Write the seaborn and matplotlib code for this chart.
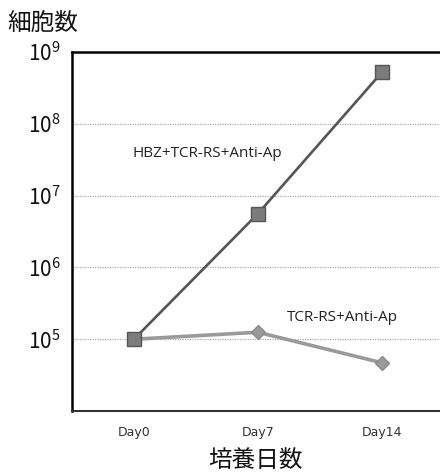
import matplotlib
matplotlib.use("Agg")
import matplotlib.pyplot as plt
import matplotlib.ticker as mticker
import seaborn as sns
import pandas as pd

# Culture days and cell counts per condition
days = ["Day0", "Day7", "Day14"]
hbz_counts = [1.0e5, 5.6e6, 5.2e8]
tcr_counts = [1.0e5, 1.25e5, 4.7e4]
series_names = ["HBZ+TCR-RS+Anti-Ap", "TCR-RS+Anti-Ap"]
y_ticks = [1e5, 1e6, 1e7, 1e8, 1e9]

sns.set_theme(style="white")
plt.rcParams["font.family"] = ["Noto Sans CJK JP", "DejaVu Sans"]

df = pd.DataFrame({
    "pos": list(range(len(days))) * 2,
    "count": hbz_counts + tcr_counts,
    "series": [series_names[0]] * len(days) + [series_names[1]] * len(days),
})

fig = plt.figure(figsize=(4.4, 4.75), dpi=100)
ax = fig.add_axes([0.1636, 0.1347, 0.845, 0.7558])

# lighter series first so the squares sit on top at Day0
sns.lineplot(data=df[df.series == series_names[1]], x="pos", y="count",
             ax=ax, color="#9a9a9a", linewidth=2.6, marker="D",
             markersize=7, markerfacecolor="#9a9a9a",
             markeredgecolor="#8a8a8a", markeredgewidth=1.0)
sns.lineplot(data=df[df.series == series_names[0]], x="pos", y="count",
             ax=ax, color="#555555", linewidth=1.9, marker="s",
             markersize=10, markerfacecolor="#7c7c7c",
             markeredgecolor="#555555", markeredgewidth=1.0)

ax.set_yscale("log")
ax.set_ylim(1e4, 1e9)
ax.set_xlim(-0.5, 2.5)
ax.set_yticks(y_ticks)
ax.yaxis.set_major_formatter(mticker.LogFormatterMathtext())
ax.yaxis.set_minor_locator(mticker.NullLocator())
ax.set_xticks(range(len(days)))
ax.set_xticklabels(days, fontsize=9, color="#333333", family="DejaVu Sans")
for lab in ax.get_yticklabels():
    lab.set_fontsize(15)
    lab.set_color("#111111")
ax.tick_params(axis="both", length=0)
ax.tick_params(axis="x", pad=11)
ax.tick_params(axis="y", pad=8)

ax.yaxis.grid(True, color="#aaaaaa", linestyle=(0, (1, 1)), linewidth=0.9)
ax.set_axisbelow(True)

for side in ["left", "top"]:
    ax.spines[side].set_color("#000000")
    ax.spines[side].set_linewidth(1.8)
ax.spines["bottom"].set_color("#333333")
ax.spines["bottom"].set_linewidth(1.5)
ax.spines["right"].set_visible(False)

ax.set_xlabel("")
ax.set_ylabel("")

ax.text(0.59, 3.9e7, series_names[0], ha="center", va="center",
        fontsize=11, color="#222222", family="Open Sans")
ax.text(1.685, 2.0e5, series_names[1], ha="center", va="center",
        fontsize=11, color="#222222", family="Open Sans")

fig.text(0.016, 0.948, "細胞数", ha="left", va="center", fontsize=17,
         color="#111111")
fig.text(0.58, 0.03, "培養日数", ha="center", va="center", fontsize=17,
         color="#111111")

fig.savefig("out.png", dpi=100)
